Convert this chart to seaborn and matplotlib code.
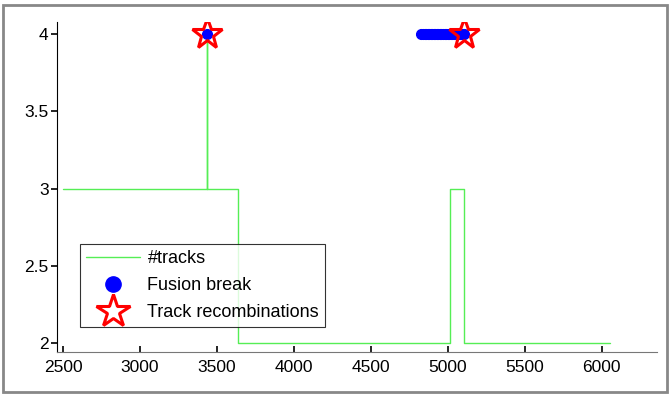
import matplotlib
matplotlib.use('Agg')
import numpy as np
import pandas as pd
import matplotlib.pyplot as plt
import seaborn as sns
from matplotlib.patches import Rectangle

# number of tracks (step function)
track_x = [2500, 3433, 3434, 3634, 5015, 5107, 6050]
track_n = [3, 4, 3, 2, 3, 2, 2]

# fusion break events
break_x = [3433, 4828, 4838, 4848, 4858, 4868, 4878, 4888, 4898, 4908, 4918,
           4928, 4938, 4948, 4958, 4968, 4978, 4988, 4998, 5008, 5018, 5028,
           5038, 5048, 5058, 5068, 5078, 5088, 5098, 5107]
break_y = [4] * len(break_x)

# track recombinations
recomb_x = [3433, 5107]
recomb_y = [4, 4]

sns.set_style('white')
plt.rcParams['font.family'] = ['Liberation Sans', 'DejaVu Sans']
plt.rcParams['text.color'] = 'black'
plt.rcParams['xtick.color'] = 'black'
plt.rcParams['ytick.color'] = 'black'

fig = plt.figure(figsize=(6.7, 3.97), dpi=100)
ax = fig.add_axes([0.085, 0.113, 0.896, 0.832])

tracks = pd.DataFrame({'x': track_x, 'n': track_n})
sns.lineplot(data=tracks, x='x', y='n', ax=ax, color='#55ee55', lw=1,
             drawstyle='steps-post', estimator=None, sort=False,
             label='#tracks')
ax.plot(break_x, break_y, 'o', color='blue', ms=7, mec='blue',
        label='Fusion break', zorder=3)
ax.plot(recomb_x, recomb_y, '*', color='red', ms=23, mfc='none', mec='red',
        mew=2.2, label='Track recombinations', zorder=4)

ax.set_xlim(2460, 6360)
ax.set_ylim(1.94, 4.08)
ax.set_xticks([2500, 3000, 3500, 4000, 4500, 5000, 5500, 6000])
ax.set_yticks([2, 2.5, 3, 3.5, 4])
ax.set_yticklabels(['2', '2.5', '3', '3.5', '4'])
ax.set_xlabel('')
ax.set_ylabel('')
ax.tick_params(axis='y', direction='out', length=4, width=1.2, labelsize=12.5,
               left=True, pad=2, colors='black')
ax.tick_params(axis='x', direction='in', length=4, width=1.2, labelsize=12.5,
               bottom=True, pad=6, colors='black')
for s in ['top', 'right']:
    ax.spines[s].set_visible(False)
ax.spines['left'].set_color('black')
ax.spines['bottom'].set_color('#777777')

h, l = ax.get_legend_handles_labels()
leg = ax.legend(h, l, loc='lower left', bbox_to_anchor=(0.038, 0.075),
                fontsize=13, frameon=True, fancybox=False, edgecolor='black',
                borderaxespad=0, handlelength=3.0, handletextpad=0.4,
                labelspacing=0.55, borderpad=0.35)
leg.get_frame().set_linewidth(0.8)
leg.legend_handles[1].set_markersize(11)
leg.legend_handles[2].set_markersize(25)

fig.patches.append(Rectangle((0.005, 0.012), 0.99, 0.975,
                             transform=fig.transFigure, fill=False,
                             edgecolor='#888888', lw=2))

fig.savefig('out.png', dpi=100)
plt.close(fig)
